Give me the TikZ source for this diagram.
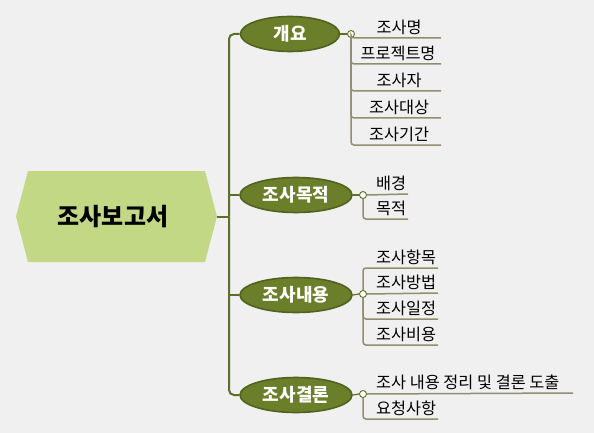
\documentclass[tikz,border=0pt]{standalone}
\usepackage{fontspec}
\newfontfamily\kr{Noto Sans CJK KR}
\usetikzlibrary{shapes.geometric}
\definecolor{bg}{HTML}{F0F0F0}
\definecolor{rootfill}{HTML}{C3D885}
\definecolor{trunk}{HTML}{5C6F28}
\definecolor{ellfill}{HTML}{6B7F2A}
\definecolor{elldraw}{HTML}{52621E}
\definecolor{leafline}{HTML}{8E8E70}
\tikzset{
  trunkline/.style={draw=trunk,line width=2pt,rounded corners=5pt},
  branchbox/.style={ellipse,fill=ellfill,draw=elldraw,line width=1.6pt,inner sep=0pt,
     text=white,font=\kr\bfseries\fontsize{18}{18}\selectfont},
  knob/.style={circle,draw=trunk,fill=white,line width=0.9pt,minimum size=7pt,inner sep=0pt},
  leafwire/.style={draw=leafline,line width=1.5pt,rounded corners=3pt},
  knobwire/.style={draw=trunk,line width=1.2pt},
  leaftext/.style={inner sep=0pt,font=\kr\fontsize{16.3}{16.3}\selectfont},
}
\begin{document}
\begin{tikzpicture}[x=1pt,y=-1pt]
\fill[bg] (0,0) rectangle (594,433);
\useasboundingbox (0,0) rectangle (594,433);
% root
\fill[rootfill] (16,216.5) -- (28,171) -- (205,171) -- (217,216.5) -- (205,262) -- (28,262) -- cycle;
\node[font=\kr\bfseries\fontsize{24}{24}\selectfont] (roottxt) at (113,216.5) {조사보고서};
\coordinate (rootE) at (217,216.5);
% branches
\node[branchbox,minimum width=99pt,minimum height=35pt] (b1) at (290,34) {개요};
\node[branchbox,minimum width=112pt,minimum height=35pt] (b2) at (296,195) {조사목적};
\node[branchbox,minimum width=112pt,minimum height=35pt] (b3) at (296,295) {조사내용};
\node[branchbox,minimum width=112pt,minimum height=35pt] (b4) at (296,395) {조사결론};
% trunk
\coordinate (tj) at (229,216.5);
\draw[trunkline] (rootE) -- (tj);
\draw[trunkline] (b1.west) -| (tj);
\draw[trunkline] (b4.west) -| (tj);
\draw[trunkline] (b2.west) -- (229,195);
\draw[trunkline] (b3.west) -- (229,295);
% knobs
\node[knob] (k1) at (351,34) {};
\node[knob] (k2) at (363,195) {};
\node[knob] (k3) at (363,294) {};
\node[knob] (k4) at (363,394) {};
\draw[knobwire] (b1.east) -- (k1.west);
\draw[knobwire] (b2.east) -- (k2.west);
\draw[knobwire] (b3.east) -- (k3.west);
\draw[knobwire] (b4.east) -- (k4.west);
% leaves of b1
\foreach \i/\y in {1/38,2/64,3/91,4/118,5/145}{\coordinate (a\i) at (441,\y);}
\foreach \i in {1,...,5}{\draw[leafwire] (k1.south) |- (a\i);}
\node[leaftext,anchor=base] (t11) at (399,33.5) {조사명};
\node[leaftext,anchor=base] (t12) at (398,59.5) {프로젝트명};
\node[leaftext,anchor=base] (t13) at (399,86.5) {조사자};
\node[leaftext,anchor=base] (t14) at (399,113.5) {조사대상};
\node[leaftext,anchor=base] (t15) at (399,140.5) {조사기간};
% leaves of b2
\coordinate (c1) at (408,194);
\coordinate (c2) at (408,219);
\draw[leafwire] (k2.east) -- (c1);
\draw[leafwire] (k2.south) |- (c2);
\node[leaftext,anchor=base west] (t21) at (376,189.5) {배경};
\node[leaftext,anchor=base west] (t22) at (376,214.5) {목적};
% leaves of b3
\coordinate (d1) at (438,268);
\coordinate (d2) at (438,293);
\coordinate (d3) at (438,319);
\coordinate (d4) at (438,345);
\draw[leafwire] (k3.north) |- (d1);
\draw[leafwire] (k3.east) -- (d2);
\draw[leafwire] (k3.south) |- (d3);
\draw[leafwire] (k3.south) |- (d4);
\node[leaftext,anchor=base west] (t31) at (376,263.5) {조사항목};
\node[leaftext,anchor=base west] (t32) at (376,288.5) {조사방법};
\node[leaftext,anchor=base west] (t33) at (376,314.5) {조사일정};
\node[leaftext,anchor=base west] (t34) at (376,340.5) {조사비용};
% leaves of b4
\coordinate (e1) at (573,393);
\coordinate (e2) at (438,419);
\draw[leafwire] (k4.east) -- (e1);
\draw[leafwire] (k4.south) |- (e2);
\node[leaftext,anchor=base west] (t41) at (376,388.5) {조사 내용 정리 및 결론 도출};
\node[leaftext,anchor=base west] (t42) at (376,414.5) {요청사항};
\end{tikzpicture}
\end{document}
